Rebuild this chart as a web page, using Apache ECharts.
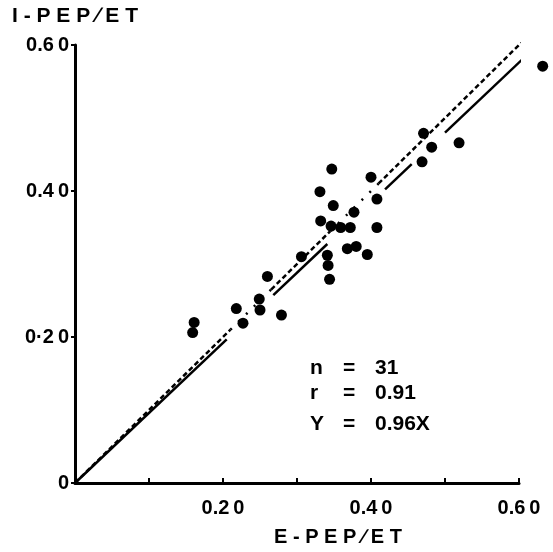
<!DOCTYPE html>
<html>
<head>
<meta charset="utf-8">
<script src="https://cdn.jsdelivr.net/npm/echarts@6/dist/echarts.min.js"></script>
<style>
  html, body { margin: 0; padding: 0; background: #fff; }
  #main { width: 553px; height: 552px; }
</style>
</head>
<body>
<div id="main"></div>
<script>
// E-PEP/ET (x) vs I-PEP/ET (y)
const ePep = [0.161, 0.159, 0.218, 0.227, 0.249, 0.250, 0.260, 0.279, 0.306, 0.347,
              0.331, 0.349, 0.332, 0.346, 0.359, 0.372, 0.377, 0.341, 0.342, 0.344,
              0.368, 0.380, 0.395, 0.400, 0.408, 0.408, 0.632, 0.471, 0.482, 0.519, 0.469];
const iPep = [0.220, 0.206, 0.239, 0.219, 0.252, 0.237, 0.283, 0.230, 0.310, 0.430,
              0.399, 0.380, 0.359, 0.352, 0.350, 0.350, 0.371, 0.312, 0.298, 0.279,
              0.321, 0.324, 0.313, 0.419, 0.389, 0.350, 0.571, 0.479, 0.460, 0.466, 0.440];

// regression Y = 0.96X drawn in pieces, identity line Y = X
const slope = 0.96;
const fitPieces = [[0, 0.205], [0.268, 0.341], [0.419, 0.455], [0.5, 0.608]];
const idDashed = [[0, 0.21], [0.265, 0.345], [0.41, 0.603]];
const idDotted = [[0.21, 0.265], [0.345, 0.41]];

const xTicks = { 0.2: '0.2\u20090', 0.4: '0.4\u20090', 0.6: '0.6\u20090' };
const yTicks = { 0: '0', 0.2: '0·2\u20090', 0.4: '0.4\u20090', 0.6: '0.6\u20090' };
const stats = ['n', 'r', 'Y'];
const statVals = ['31', '0.91', '0.96X'];

const font = 'Liberation Sans, Arial, sans-serif';

function seg(piece, k, type) {
    return {
        type: 'line',
        data: [[piece[0], piece[0] * k], [piece[1], piece[1] * k]],
        symbol: 'none',
        clip: false,
        silent: true,
        lineStyle: { color: '#000', width: 2.5, type: type }
    };
}

let series = [{
    type: 'scatter',
    data: ePep.map((x, i) => [x, iPep[i]]),
    symbolSize: 11,
    clip: false,
    itemStyle: { color: '#000', opacity: 1 }
}];
fitPieces.forEach(p => series.push(seg(p, slope, 'solid')));
idDashed.forEach(p => series.push(seg(p, 1, [5, 3])));
idDotted.forEach(p => series.push(seg(p, 1, [2, 9])));

let graphic = [];
stats.forEach((s, i) => {
    let y = [370, 395, 426][i];
    graphic.push({ type: 'text', left: 310, top: y - 12, style: { text: s, font: 'bold 21px ' + font, fill: '#000' } });
    graphic.push({ type: 'text', left: 343, top: y - 12, style: { text: '=', font: 'bold 21px ' + font, fill: '#000' } });
    graphic.push({ type: 'text', left: 375, top: y - 12, style: { text: statVals[i], font: 'bold 21px ' + font, fill: '#000' } });
});

let myChart = echarts.init(document.getElementById('main'));
myChart.setOption({
    animation: false,
    grid: { left: 75, top: 45, right: 34, bottom: 66 },
    xAxis: {
        type: 'value',
        min: 0,
        max: 0.6,
        interval: 0.1,
        name: 'E - P E P ∕ E T',
        nameLocation: 'middle',
        nameGap: 44,
        nameTextStyle: { fontFamily: font, fontWeight: 'bold', fontSize: 20, color: '#000', padding: [0, 0, 0, 82] },
        splitLine: { show: false },
        axisLine: { lineStyle: { color: '#000', width: 3 } },
        axisTick: { inside: true, length: 5, lineStyle: { color: '#000', width: 2 } },
        axisLabel: {
            margin: 15,
            fontFamily: font, fontWeight: 'bold', fontSize: 20, color: '#000',
            formatter: v => xTicks[Math.round(v * 10) / 10] || ''
        }
    },
    yAxis: {
        type: 'value',
        min: 0,
        max: 0.6,
        interval: 0.2,
        name: 'I - P E P ∕ E T',
        nameLocation: 'end',
        nameGap: 18,
        nameTextStyle: { fontFamily: font, fontWeight: 'bold', fontSize: 21, color: '#000', align: 'center' },
        splitLine: { show: false },
        axisLine: { lineStyle: { color: '#000', width: 3 } },
        axisTick: { length: 4, lineStyle: { color: '#000', width: 2 } },
        axisLabel: {
            margin: 6,
            fontFamily: font, fontWeight: 'bold', fontSize: 20, color: '#000',
            formatter: v => yTicks[Math.round(v * 10) / 10] || ''
        }
    },
    graphic: graphic,
    series: series
});
</script>
</body>
</html>
